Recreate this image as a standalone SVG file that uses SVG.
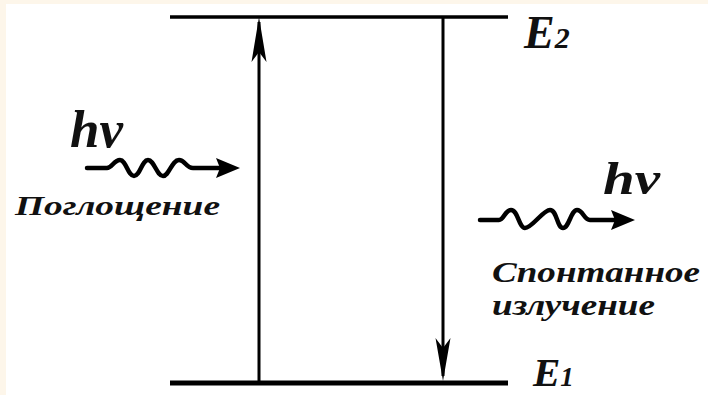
<svg xmlns="http://www.w3.org/2000/svg" width="708" height="395" viewBox="0 0 708 395">
<style>
.lvl{stroke:#000;fill:none}
.sh{stroke:#000;stroke-width:3;fill:none}
.wave{stroke:#000;stroke-width:4.5;fill:none;stroke-linecap:round;stroke-linejoin:round}
text{font-family:'Liberation Serif','Times New Roman',Times,serif;font-weight:700;font-style:italic;fill:#111}
</style>
<rect x="0" y="0" width="708" height="395" fill="#fdf6ea"/>
<rect x="6" y="4" width="702" height="391" fill="#fff"/>
<g id="level-E2">
<line class="lvl" x1="170" y1="17" x2="508" y2="17" stroke-width="3.5"/>
<text x="524" y="48" font-size="46">E<tspan font-size="30">2</tspan></text>
</g>
<g id="level-E1">
<line class="lvl" x1="170" y1="383" x2="508" y2="383" stroke-width="5"/>
<text x="533" y="386" font-size="41">E<tspan font-size="27">1</tspan></text>
</g>
<g id="connectors">
<g id="absorption-transition">
<line class="sh" x1="259" y1="383" x2="259" y2="22"/>
<path d="M259,17 L251.5,62 L259,52 L266.5,62 Z" fill="#000"/>
</g>
<g id="emission-transition">
<line class="sh" x1="443" y1="17" x2="443" y2="376"/>
<path d="M443,381 L435.5,338 L443,348 L450.5,338 Z" fill="#000"/>
</g>
</g>
<g id="absorption-photon">
<text x="70" y="147" font-size="52" textLength="53" lengthAdjust="spacingAndGlyphs">hv</text>
<path class="wave" d="M87,168 L107,168 C112,168 114,160 120,160 C126,160 128,176 134,176 C140,176 142,160 148,160 C154,160 157,176 163,176 C169,176 172,160 179,160 C185,160 186,168 193,168 L222,168"/>
<path d="M240,168 L216,158 L220,168 L216,178 Z" fill="#000"/>
<text x="15" y="215" font-size="28" textLength="205" lengthAdjust="spacingAndGlyphs">Поглощение</text>
</g>
<g id="emission-photon">
<text x="603" y="194" font-size="46" textLength="57" lengthAdjust="spacingAndGlyphs">hv</text>
<path class="wave" d="M480,220 L499,220 C504,220 505,210 511,210 C518,210 519,228 525,228 C532,228 543,210 550,210 C557,210 557,228 563,228 C569,228 571,210 577,210 C583,210 584,220 590,220 L616,220"/>
<path d="M635,220 L611,210 L615,220 L611,230 Z" fill="#000"/>
<text x="492" y="282" font-size="30" textLength="208" lengthAdjust="spacingAndGlyphs">Спонтанное</text>
<text x="492" y="315" font-size="30" textLength="163" lengthAdjust="spacingAndGlyphs">излучение</text>
</g>
</svg>
